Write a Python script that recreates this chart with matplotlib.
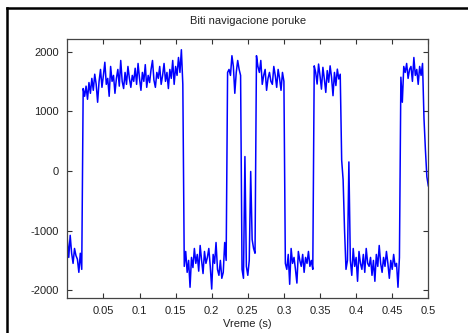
import numpy as np
import matplotlib
matplotlib.use("Agg")
import matplotlib.pyplot as plt
from matplotlib.lines import Line2D

plt.rcParams['font.family'] = ['Liberation Sans', 'DejaVu Sans']
plt.rcParams['axes.unicode_minus'] = False

# sample spacing of the recorded signal (seconds)
dt = 0.002

low_1 = [-1150, -1450, -1080, -1380, -1550, -1300, -1420, -1480, -1700, -1380, -1650]
high_1 = [1380, 1250, 1420, 1200, 1480, 1300, 1550, 1350, 1620, 1450,
          1150, 1500, 1700, 1400, 1600, 1820, 1450, 1550, 1250, 1750,
          1500, 1600, 1300, 1550, 1700, 1420, 1850, 1500, 1380, 1650,
          1450, 1750, 1550, 1400, 1600, 1500, 1720, 1450, 1800, 1550,
          1350, 1650, 1500, 1780, 1400, 1600, 1480, 1700, 1850, 1520,
          1400, 1650, 1550, 1750, 1450, 1600, 1800, 1500, 1650, 1380,
          1700, 1550, 1850, 1450, 1750, 1600, 1900, 1650, 2030, 1450]
low_2 = [-1600, -1350, -1700, -1500, -1950, -1450, -1620, -1300, -1550, -1400,
         -1680, -1250, -1500, -1720, -1350, -1550, -1450, -1300, -1600, -1980,
         -1400, -1550, -1200, -1650, -1750, -1500, -1800, -1700, -1200, -1500]
high_3 = [1650, 1700, 1600, 1930, 1750, 1300, 1650, 1850, 1700, 1600]
mixed_4 = [-1650, -1800, 240, -1600, -1750, -1500, -10, -1150, -1300, -1380]
high_5 = [1930, 1750, 1650, 1850, 1450, 1600, 1700, 1350, 1550, 1650,
          1500, 1450, 1750, 1600, 1400, 1700, 1550, 1350, 1650, 1500]
low_6 = [-1550, -1650, -1400, -1900, -1300, -1550, -1450, -1650, -1880, -1350,
         -1500, -1600, -1400, -1700, -1450, -1550, -1350, -1600, -1500, -1650]
high_7 = [1760, 1650, 1455, 1790, 1595, 1370, 1735, 1540, 1315, 1680,
          1485, 1760, 1565, 1260, 1650, 1430, 1705, 1540, 1620]
mixed_8 = [180, -150, -1000, -1650, -1500, 150]
low_9 = [-1500, -1750, -1300, -1600, -1450, -1850, -1350, -1550, -1650, -1400,
         -1700, -1300, -1550, -1600, -1450, -1750, -1500, -1850, -1400, -1600,
         -1250, -1550, -1700, -1450, -1600, -1350, -1550, -1800, -1500, -1650,
         -1400, -1600, -1550, -1950, -1450]
high_10 = [1570, 1150, 1750, 1650, 1800, 1550, 1700, 1750, 1500, 1900,
           1600, 1700, 1450, 1750, 1600, 1800]
tail_11 = [880, 350, -100, -250]

signal = np.array(low_1 + high_1 + low_2 + high_3 + mixed_4 + high_5 + low_6 +
                  high_7 + mixed_8 + low_9 + high_10 + tail_11, dtype=float)
time = np.arange(len(signal)) * dt

xticks = [0.05, 0.1, 0.15, 0.2, 0.25, 0.3, 0.35, 0.4, 0.45, 0.5]
xtick_labels = ['0.05', '0.1', '0.15', '0.2', '0.25', '0.3', '0.35', '0.4', '0.45', '0.5']
yticks = [-2000, -1000, 0, 1000, 2000]

fig = plt.figure(figsize=(4.68, 3.33), dpi=100, facecolor='white')
ax = fig.add_axes([0.1438, 0.1051, 0.7714, 0.7778])
ax.plot(time, signal, color='#0000ff', linewidth=1.1)
ax.set_xlim(0, 0.5)
ax.set_ylim(-2130, 2210)
ax.set_xticks(xticks)
ax.set_xticklabels(xtick_labels)
ax.set_yticks(yticks)
ax.tick_params(direction='in', length=3.5, width=0.8, top=True, right=True,
               labelsize=8, colors='#333333', labelcolor='#222222', pad=6)
for s in ax.spines.values():
    s.set_color('#444444')
    s.set_linewidth(0.9)
ax.set_title('Biti navigacione poruke', fontsize=8, color='#222222', pad=11)
ax.set_xlabel('Vreme (s)', fontsize=8, color='#222222', labelpad=2)

# window border (black frame at left and top)
fig.add_artist(Line2D([7.5 / 468, 7.5 / 468], [0, 1 - 8 / 333], transform=fig.transFigure,
                      color='black', linewidth=1.8))
fig.add_artist(Line2D([7.5 / 468, 1], [1 - 8 / 333, 1 - 8 / 333], transform=fig.transFigure,
                      color='black', linewidth=1.8))

fig.savefig('out.png', dpi=100, facecolor='white')
